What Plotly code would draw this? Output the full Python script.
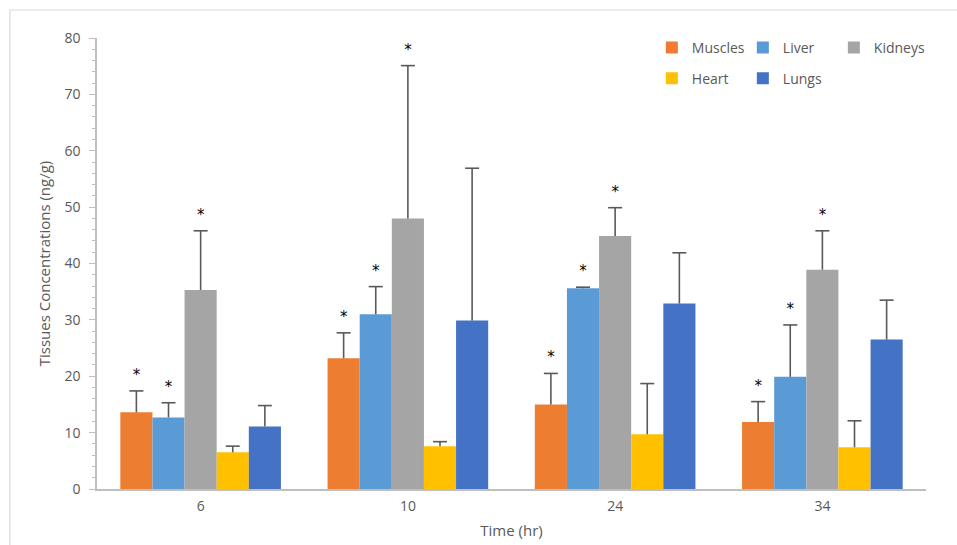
import plotly.graph_objects as go

times = ["6", "10", "24", "34"]
tissues = ["Muscles", "Liver", "Kidneys", "Heart", "Lungs"]
muscles = [13.6, 23.2, 15.0, 11.9]
liver = [12.7, 31.0, 35.6, 19.9]
kidneys = [35.3, 48.0, 44.9, 38.9]
heart = [6.5, 7.6, 9.7, 7.4]
lungs = [11.1, 29.9, 32.9, 26.5]
muscles_err = [3.8, 4.5, 5.5, 3.6]
liver_err = [2.6, 4.9, 0.2, 9.2]
kidneys_err = [10.5, 27.1, 5.0, 6.9]
heart_err = [1.1, 0.8, 9.0, 4.7]
lungs_err = [3.7, 27.0, 9.0, 7.0]
significant = ["Muscles", "Liver", "Kidneys"]

colors = ["#ED7D31", "#5B9BD5", "#A5A5A5", "#FFC000", "#4472C4"]
values = [muscles, liver, kidneys, heart, lungs]
errors = [muscles_err, liver_err, kidneys_err, heart_err, lungs_err]
legend_ids = ["legend", "legend", "legend", "legend2", "legend2"]

font_family = "Open Sans, Liberation Sans, Arial, sans-serif"
grey_text = "#595959"
err_color = "#595959"
gap = 0.225

fig = go.Figure()
for name, vals, errs, col, lg in zip(tissues, values, errors, colors, legend_ids):
    fig.add_trace(go.Bar(
        name=name, x=times, y=vals,
        marker=dict(color=col, line=dict(width=0)),
        error_y=dict(type="data", array=errs, arrayminus=[0] * len(errs),
                     symmetric=False, visible=True,
                     color=err_color, thickness=1.6, width=0),
        legend=lg, offsetgroup=name,
    ))

# error-bar caps + significance asterisks, aligned with the bars
for name, vals, errs in zip(tissues, values, errors):
    tops = [v + e for v, e in zip(vals, errs)]
    mark = "*" if name in significant else ""
    fig.add_trace(go.Scatter(
        x=times, y=tops, mode="markers+text",
        marker=dict(symbol="line-ew", size=10, color=err_color,
                    line=dict(color=err_color, width=1.6)),
        text=[mark] * len(tops), textposition="top center",
        textfont=dict(family="DejaVu Sans, sans-serif", size=15, color="#000000"),
        offsetgroup=name, showlegend=False, hoverinfo="skip", cliponaxis=False,
    ))

# outer frame (top and left edges visible)
fig.add_shape(type="rect", xref="paper", yref="paper",
              x0=-0.1051, x1=1.3, y0=-0.3, y1=1.0621,
              line=dict(color="#D9D9D9", width=1.2), fillcolor="rgba(0,0,0,0)",
              layer="below")

legend_common = dict(orientation="h", xanchor="left", yanchor="top",
                     entrywidth=46, entrywidthmode="pixels", itemwidth=30,
                     font=dict(size=14, color=grey_text), bgcolor="rgba(0,0,0,0)")

fig.update_layout(
    width=957, height=545,
    margin=dict(l=97, r=31, t=38, b=56, autoexpand=False),
    paper_bgcolor="white", plot_bgcolor="white",
    barmode="group", bargap=gap, bargroupgap=0.0,
    scattermode="group", scattergap=gap,
    font=dict(family=font_family, size=14, color=grey_text),
    showlegend=True,
    legend=dict(x=0.6693, y=1.0138, **legend_common),
    legend2=dict(x=0.6693, y=0.9453, **legend_common),
    xaxis=dict(
        type="category", range=[-0.5, 3.5],
        title=dict(text="Time (hr)", font=dict(size=15, color=grey_text), standoff=12),
        showline=True, linecolor="#BFBFBF", linewidth=2,
        ticks="", showgrid=False, tickfont=dict(size=14, color=grey_text),
        ticklabelstandoff=3,
    ),
    yaxis=dict(
        title=dict(text="Tissues Concentrations (ng/g)", font=dict(size=15, color=grey_text), standoff=10),
        range=[0, 80], dtick=10, tick0=0,
        showline=True, linecolor="#BFBFBF", linewidth=1.5,
        ticks="outside", ticklen=6, tickcolor="#BFBFBF", tickwidth=1.2,
        minor=dict(ticks="outside", ticklen=3, dtick=2, tickcolor="#BFBFBF", tickwidth=1),
        showgrid=False, zeroline=False,
        tickfont=dict(size=14, color=grey_text),
        ticklabelstandoff=6,
    ),
)

fig.write_html("out.html", config={"displayModeBar": False},
               post_script="document.body.style.margin='0';document.body.style.overflow='hidden';")
